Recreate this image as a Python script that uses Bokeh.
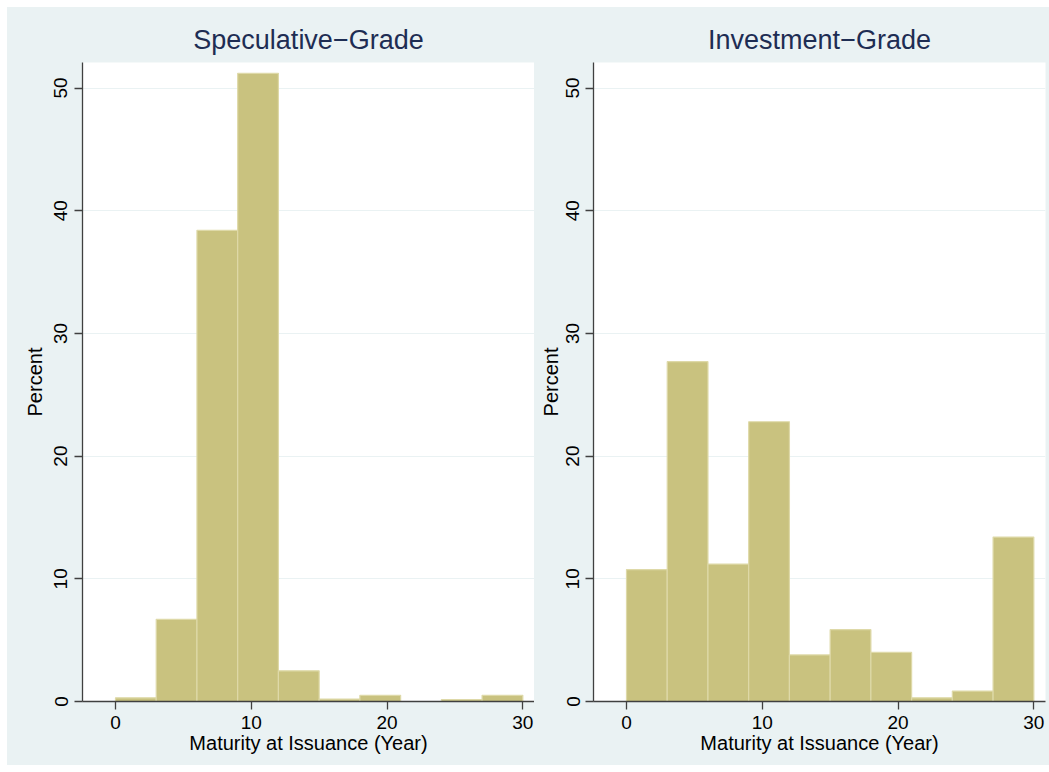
from bokeh.plotting import figure
from bokeh.layouts import row
from bokeh.models import ColumnDataSource, FixedTicker, Range1d
from bokeh.embed import file_html
from bokeh.resources import INLINE

# ---- data ----
bin_edges = [0, 3, 6, 9, 12, 15, 18, 21, 24, 27, 30]
spec_pct = [0.3, 6.7, 38.4, 51.2, 2.5, 0.2, 0.5, 0.0, 0.15, 0.5]
inv_pct = [10.75, 27.7, 11.2, 22.8, 3.8, 5.85, 4.0, 0.3, 0.85, 13.4]
titles = ["Speculative\u2212Grade", "Investment\u2212Grade"]
x_ticks = [0, 10, 20, 30]
y_ticks = [0, 10, 20, 30, 40, 50]
x_label = "Maturity at Issuance (Year)"
y_label = "Percent"

BG = "#EAF2F3"
FONT = "Liberation Sans"


def make_panel(title, pct, width, left_b, right_b, lab_so, ax_so):
    src = ColumnDataSource(dict(
        left=bin_edges[:-1], right=bin_edges[1:], top=pct,
        bottom=[0] * len(pct)))
    p = figure(width=width, height=758,
               x_range=Range1d(-2.43, 30.86), y_range=Range1d(0, 52.08),
               output_backend="svg", toolbar_location=None,
               min_border_left=left_b, min_border_right=right_b,
               min_border_top=55, min_border_bottom=64,
               background_fill_color="white", border_fill_color=BG,
               outline_line_color=None)
    p.quad(left="left", right="right", top="top", bottom="bottom", source=src,
           fill_color="#C9C27F", line_color="#DED9A8", line_width=1.2)

    p.title.text = title
    p.title.text_font = FONT
    p.title.text_font_size = "27px"
    p.title.text_font_style = "normal"
    p.title.text_color = "#1E2D53"
    p.title.align = "center"
    p.title.standoff = 15

    p.xgrid.visible = False
    p.ygrid.ticker = FixedTicker(ticks=y_ticks)
    p.ygrid.grid_line_color = BG
    p.ygrid.grid_line_width = 1

    p.xaxis.ticker = FixedTicker(ticks=x_ticks)
    p.yaxis.ticker = FixedTicker(ticks=y_ticks)
    p.xaxis.axis_label = x_label
    p.yaxis.axis_label = y_label
    p.yaxis.major_label_orientation = "vertical"
    for ax in (p.xaxis, p.yaxis):
        ax.axis_line_color = "#404040"
        ax.axis_line_width = 1.3
        ax.major_tick_line_color = "#404040"
        ax.major_tick_line_width = 1.3
        ax.major_tick_out = 8
        ax.major_tick_in = 0
        ax.minor_tick_line_color = None
        ax.major_label_text_font = FONT
        ax.major_label_text_font_size = "19px"
        ax.major_label_text_color = "black"
        ax.axis_label_text_font = FONT
        ax.axis_label_text_font_size = "20px"
        ax.axis_label_text_font_style = "normal"
        ax.axis_label_text_color = "black"
    p.yaxis.major_label_standoff = lab_so
    p.yaxis.axis_label_standoff = ax_so
    p.xaxis.major_label_standoff = 6
    p.xaxis.axis_label_standoff = 0
    return p


p1 = make_panel(titles[0], spec_pct, 527, 75, 0, 7, 6)
p2 = make_panel(titles[1], inv_pct, 515, 59, 4, 6, 2)
layout = row(p1, p2, margin=(7, 0, 7, 7), styles={"background-color": BG})

open("out.html", "w").write(file_html(layout, INLINE))
